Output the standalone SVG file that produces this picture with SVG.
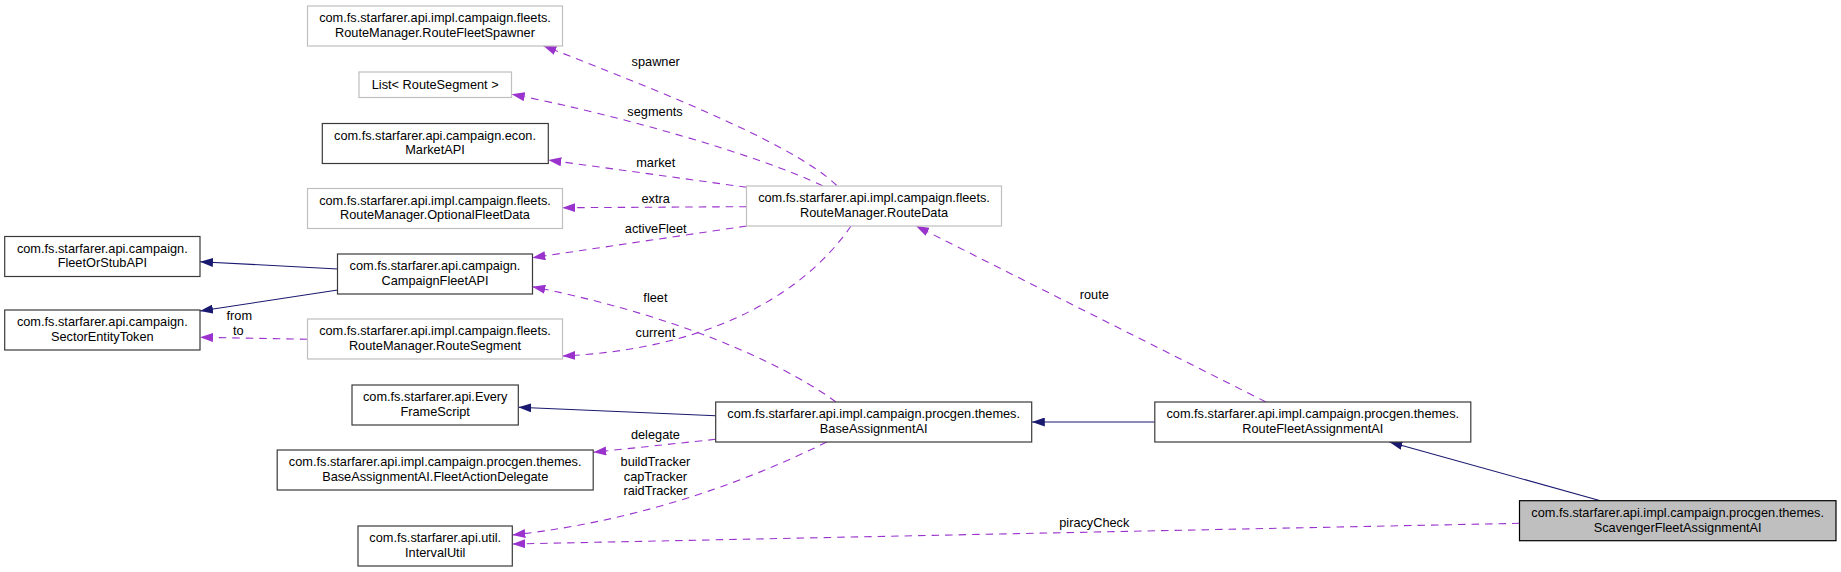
<svg xmlns="http://www.w3.org/2000/svg" width="1841" height="572" viewBox="0 0 1841 572">
<style>
text{font-family:"Liberation Sans",Arial,sans-serif;font-size:12.75px;fill:#000;text-anchor:middle}
.n rect{fill:#fff;stroke:#3a3a3a;stroke-width:1.2}
.g rect{fill:#fff;stroke:#bfbfbf;stroke-width:1.2}
.cur rect{fill:#bfbfbf;stroke:#000;stroke-width:1.2}
.d{fill:none;stroke:#9a32cd;stroke-width:1.1;stroke-dasharray:7.5,6;marker-end:url(#ap)}
.s{fill:none;stroke:#191970;stroke-width:1.1;marker-end:url(#ab)}
</style>
<defs>
<marker id="ap" markerUnits="userSpaceOnUse" markerWidth="13" markerHeight="9" viewBox="0 0 13 9" refX="13" refY="4.5" orient="auto"><path d="M0,0 L13,4.5 L0,9 z" fill="#9a32cd"/></marker>
<marker id="ab" markerUnits="userSpaceOnUse" markerWidth="13" markerHeight="9" viewBox="0 0 13 9" refX="13" refY="4.5" orient="auto"><path d="M0,0 L13,4.5 L0,9 z" fill="#191970"/></marker>
</defs>
<rect width="1841" height="572" fill="#fff"/>
<g id="edges">
<path class="d" d="M836.7,185.5 C790,140 630,80 543.3,45.7"/>
<path class="d" d="M822.6,185.7 C760,156 620,115 511.7,94.3"/>
<path class="d" d="M746.7,187.3 L548.3,160"/>
<path class="d" d="M746.7,206.7 L562.3,207.7"/>
<path class="d" d="M746.7,226 L532.3,257.7"/>
<path class="d" d="M851,226 C800,300 700,350 562.3,356"/>
<path class="d" d="M836,402 C800,375 700,320 532.3,286.7"/>
<path class="d" d="M1266,402 L916,226"/>
<path class="d" d="M307.3,339.3 L200,337.3"/>
<path class="d" d="M715.7,439.3 L593.3,452.3"/>
<path class="d" d="M826.7,442 C760,475 650,520 512.3,535"/>
<path class="d" d="M1519.5,523.3 L512.3,544"/>
<path class="s" d="M337.7,269 L200,261.7"/>
<path class="s" d="M337.7,290 L200,311"/>
<path class="s" d="M715.7,415.7 L518.3,407.3"/>
<path class="s" d="M1154.8,422 L1031.8,422"/>
<path class="s" d="M1600.4,500.7 L1389.4,442"/>
<text x="655.7" y="65.5">spawner</text>
<text x="655" y="115.5">segments</text>
<text x="655.7" y="167">market</text>
<text x="655.7" y="203">extra</text>
<text x="655.7" y="233">activeFleet</text>
<text x="655.4" y="301.8">fleet</text>
<text x="655.4" y="337">current</text>
<text x="1094.3" y="298.5">route</text>
<text x="239.3" y="319.5">from</text>
<text x="238.3" y="334.5">to</text>
<text x="655.4" y="439">delegate</text>
<text x="655.4" y="466">buildTracker</text>
<text x="655.4" y="481">capTracker</text>
<text x="655.4" y="495">raidTracker</text>
<text x="1094.3" y="527">piracyCheck</text>
</g>
<g id="RouteFleetSpawner" class="g"><rect x="307.5" y="6" width="255" height="40"/><text x="435" y="22">com.fs.starfarer.api.impl.campaign.fleets.</text><text x="435" y="36.8">RouteManager.RouteFleetSpawner</text></g>
<g id="ListRouteSegment" class="g"><rect x="359" y="72" width="152.5" height="25.5"/><text x="435.2" y="88.5">List&lt; RouteSegment &gt;</text></g>
<g id="MarketAPI" class="n"><rect x="322.3" y="123.5" width="226" height="40"/><text x="435" y="139.5">com.fs.starfarer.api.campaign.econ.</text><text x="435" y="154.3">MarketAPI</text></g>
<g id="OptionalFleetData" class="g"><rect x="307.5" y="188.5" width="255" height="40"/><text x="435" y="204.5">com.fs.starfarer.api.impl.campaign.fleets.</text><text x="435" y="219.3">RouteManager.OptionalFleetData</text></g>
<g id="FleetOrStubAPI" class="n"><rect x="4.7" y="236.5" width="195.3" height="40"/><text x="102.3" y="252.5">com.fs.starfarer.api.campaign.</text><text x="102.3" y="267.3">FleetOrStubAPI</text></g>
<g id="CampaignFleetAPI" class="n"><rect x="337.5" y="254" width="195" height="40"/><text x="435" y="270">com.fs.starfarer.api.campaign.</text><text x="435" y="284.8">CampaignFleetAPI</text></g>
<g id="SectorEntityToken" class="n"><rect x="4.7" y="310" width="195.3" height="40"/><text x="102.3" y="326">com.fs.starfarer.api.campaign.</text><text x="102.3" y="340.8">SectorEntityToken</text></g>
<g id="RouteSegment" class="g"><rect x="307.5" y="319" width="255" height="40"/><text x="435" y="335">com.fs.starfarer.api.impl.campaign.fleets.</text><text x="435" y="349.8">RouteManager.RouteSegment</text></g>
<g id="EveryFrameScript" class="n"><rect x="352" y="385" width="166.3" height="40"/><text x="435.2" y="401">com.fs.starfarer.api.Every</text><text x="435.2" y="415.8">FrameScript</text></g>
<g id="FleetActionDelegate" class="n"><rect x="277.2" y="450" width="316" height="40"/><text x="435.2" y="466">com.fs.starfarer.api.impl.campaign.procgen.themes.</text><text x="435.2" y="480.8">BaseAssignmentAI.FleetActionDelegate</text></g>
<g id="IntervalUtil" class="n"><rect x="358" y="526" width="154.3" height="40"/><text x="435.2" y="542">com.fs.starfarer.api.util.</text><text x="435.2" y="556.8">IntervalUtil</text></g>
<g id="RouteData" class="g"><rect x="746.5" y="186" width="255" height="40"/><text x="874" y="202">com.fs.starfarer.api.impl.campaign.fleets.</text><text x="874" y="216.8">RouteManager.RouteData</text></g>
<g id="BaseAssignmentAI" class="n"><rect x="715.7" y="402" width="316" height="40"/><text x="873.7" y="418">com.fs.starfarer.api.impl.campaign.procgen.themes.</text><text x="873.7" y="432.8">BaseAssignmentAI</text></g>
<g id="RouteFleetAssignmentAI" class="n"><rect x="1154.8" y="402" width="316" height="40"/><text x="1312.8" y="418">com.fs.starfarer.api.impl.campaign.procgen.themes.</text><text x="1312.8" y="432.8">RouteFleetAssignmentAI</text></g>
<g id="ScavengerFleetAssignmentAI" class="cur"><rect x="1519.5" y="500.7" width="316.5" height="40"/><text x="1677.7" y="516.7">com.fs.starfarer.api.impl.campaign.procgen.themes.</text><text x="1677.7" y="531.5">ScavengerFleetAssignmentAI</text></g>
</svg>
